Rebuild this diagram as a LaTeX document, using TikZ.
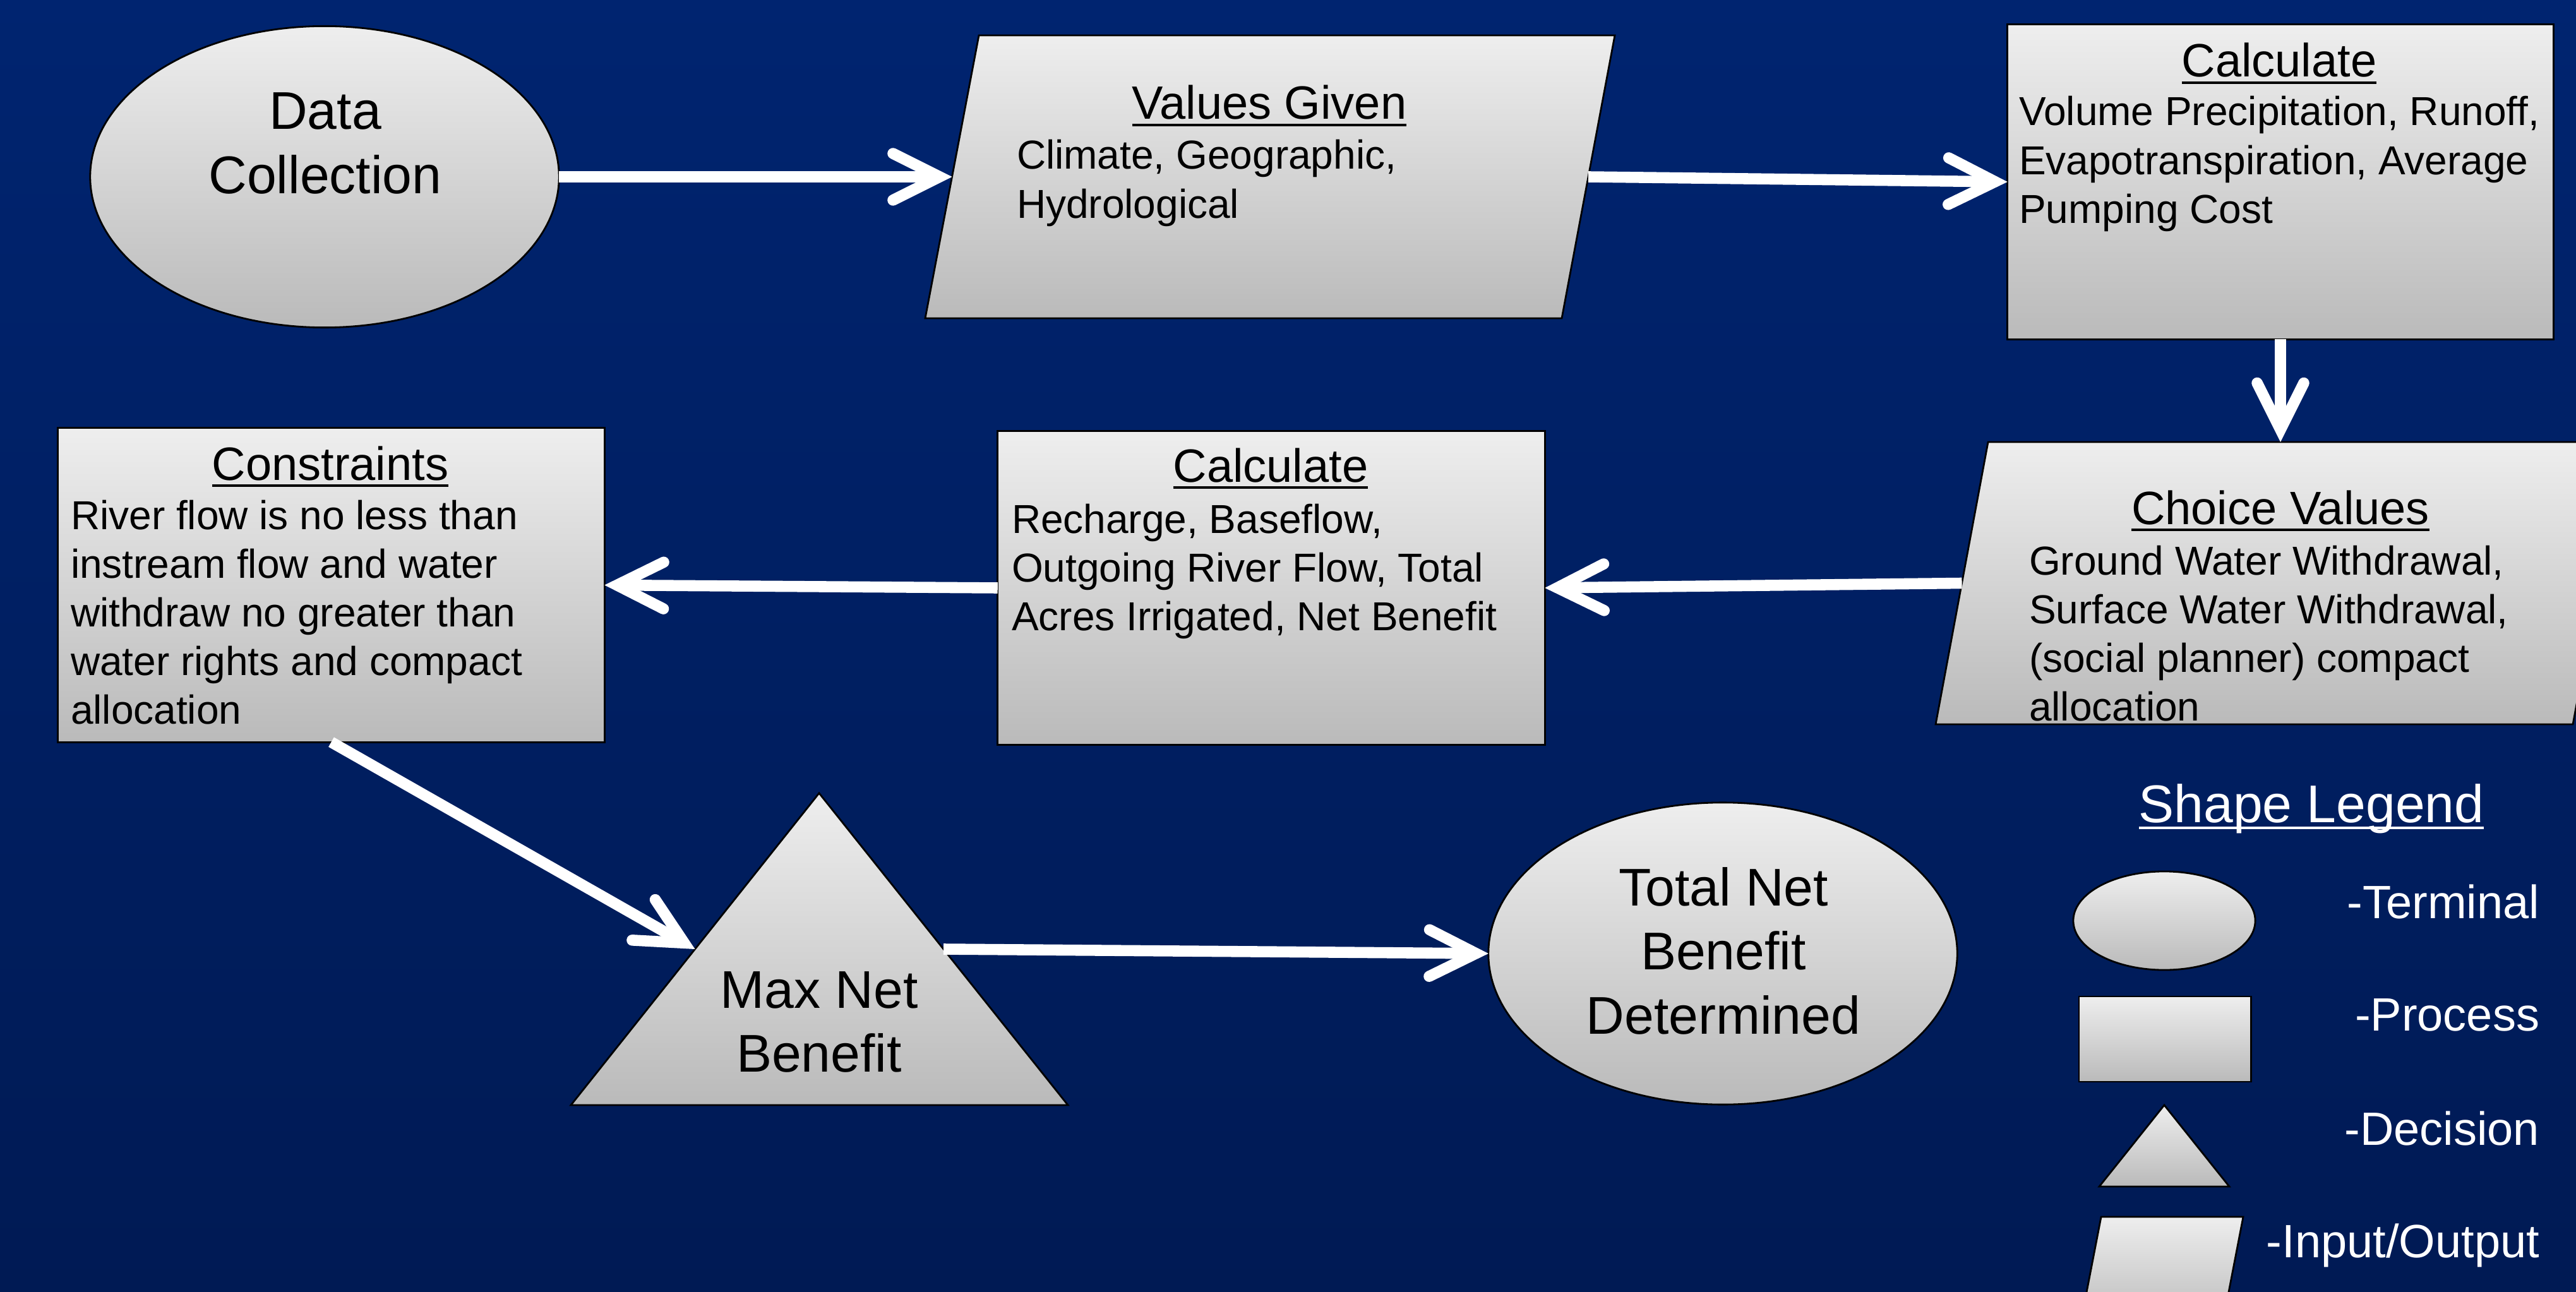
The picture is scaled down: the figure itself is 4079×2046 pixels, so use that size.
\documentclass[tikz,border=0pt]{standalone}
\usepackage{fontspec}
\setmainfont{Liberation Sans}
\usetikzlibrary{arrows.meta,calc,shapes.geometric}
\definecolor{bgtop}{RGB}{0,36,112}
\definecolor{bgbot}{RGB}{0,26,84}
\definecolor{shtop}{RGB}{238,238,238}
\definecolor{shbot}{RGB}{186,186,186}
\newcommand{\ulin}[1]{\setbox0=\hbox{#1}\rlap{\rule[-3.1pt]{\wd0}{1.0pt}}\box0}
\newcommand{\linesL}[1]{\begin{tabular}[t]{@{}l@{}}#1\end{tabular}}
\newcommand{\linesC}[1]{\begin{tabular}[t]{@{}c@{}}#1\end{tabular}}
\tikzset{
  shapebox/.style={draw=black, line width=0.8pt, top color=shtop, bottom color=shbot, inner sep=0pt, outer sep=0pt},
  flowarrow/.style={draw=white, line width=5pt, -{Straight Barb[length=21pt,width=21pt,line cap=round,line join=miter]}},
  txt/.style={inner sep=0pt, outer sep=0pt, text=black},
  bodytxt/.style={txt, font=\fontsize{18.2}{21.9}\selectfont, anchor=base west},
  titletxt/.style={txt, font=\fontsize{21.05}{25}\selectfont, anchor=base},
  bigtxt/.style={txt, font=\fontsize{23.9}{29}\selectfont, anchor=base},
  legtxt/.style={txt, text=white, font=\fontsize{21.05}{25}\selectfont, anchor=base east},
}
\begin{document}
\begin{tikzpicture}[x=0.01cm, y=-0.01cm]
\useasboundingbox (0,0) rectangle (4079,2046);
\fill[top color=bgtop, bottom color=bgbot] (0,0) rectangle (4079,2046);

% ---- main shapes ----
\node[shapebox, ellipse, minimum width=7.42cm, minimum height=4.77cm] (dc) at (514,280) {};
\path[shapebox] (1550,56) coordinate (vg1) -- (2557,56) coordinate (vg2)
  -- (2473,504) coordinate (vg3) -- (1465,504) coordinate (vg4) -- cycle;
\coordinate (vgL) at ($(vg1)!0.5!(vg4)$);
\coordinate (vgR) at ($(vg2)!0.5!(vg3)$);
\node[shapebox, rectangle, minimum width=8.64cm, minimum height=4.98cm] (c1) at (3611,288) {};
\path[shapebox] (3148,700) coordinate (cv1) -- (4157,700) coordinate (cv2)
  -- (4074,1147) coordinate (cv3) -- (3065,1147) coordinate (cv4) -- cycle;
\coordinate (cvT) at (c1.south |- cv1);
\coordinate (cvL) at ($(cv1)!0.5!(cv4)$);
\node[shapebox, rectangle, minimum width=8.66cm, minimum height=4.96cm] (c2) at (2013,931) {};
\node[shapebox, rectangle, minimum width=8.65cm, minimum height=4.97cm] (con) at (524.5,926.5) {};
\path[shapebox] (1297,1256) coordinate (mnbA) -- (1691,1750) coordinate (mnbR2)
  -- (904,1750) coordinate (mnbL2) -- cycle;
\coordinate (mnbL) at ($(mnbA)!0.5!(mnbL2)$);
\coordinate (mnbR) at ($(mnbA)!0.5!(mnbR2)$);
\node[shapebox, ellipse, minimum width=7.42cm, minimum height=4.78cm] (tnb) at (2728,1510) {};

% ---- legend shapes ----
\node[shapebox, ellipse, minimum width=2.88cm, minimum height=1.56cm] (lgE) at (3427,1458) {};
\node[shapebox, rectangle, minimum width=2.72cm, minimum height=1.35cm] (lgP) at (3428,1645.5) {};
\path[shapebox] (3427,1750) coordinate (lgT1) -- (3530,1879) coordinate (lgT2) -- (3324,1879) coordinate (lgT3) -- cycle;
\path[shapebox] (3327,1927) coordinate (lgI1) -- (3552,1927) coordinate (lgI2) -- (3518.6,2100) -- (3293.6,2100) -- cycle;

% ---- connectors ----
\draw[flowarrow] (dc.east) -- (vgL);
\draw[flowarrow] (vgR) -- (c1.west);
\draw[flowarrow] (c1.south) -- (cvT);
\draw[flowarrow] (cvL) -- (c2.east);
\draw[flowarrow] (c2.west) -- (con.east);
\draw[flowarrow] (con.south) -- (mnbL);
\draw[flowarrow] (mnbR) -- (tnb.west);

% ---- texts ----
\node[bigtxt] (dct) at (515,205) {\linesC{Data\\Collection}};

\node[titletxt] (vgt) at (2010,189) {\ulin{Values Given}};
\node[bodytxt] (vgb) at (1610,268) {\linesL{Climate, Geographic,\\Hydrological}};

\node[titletxt] (c1t) at (3609,122) {\ulin{Calculate}};
\node[bodytxt] (c1b) at (3197,199) {\linesL{Volume Precipitation, Runoff,\\Evapotranspiration, Average\\Pumping Cost}};

\node[titletxt] (cvt) at (3611,830) {\ulin{Choice Values}};
\node[bodytxt] (cvb) at (3213,910) {\linesL{Ground Water Withdrawal,\\Surface Water Withdrawal,\\(social planner) compact\\allocation}};

\node[titletxt] (c2t) at (2012,763) {\ulin{Calculate}};
\node[bodytxt] (c2b) at (1602,844) {\linesL{Recharge, Baseflow,\\Outgoing River Flow, Total\\Acres Irrigated, Net Benefit}};

\node[titletxt] (cont) at (523,760) {\ulin{Constraints}};
\node[bodytxt] (conb) at (112,838) {\linesL{River flow is no less than\\instream flow and water\\withdraw no greater than\\water rights and compact\\allocation}};

\node[bigtxt] (mnbt) at (1297,1596) {\linesC{Max Net\\Benefit}};
\node[bigtxt] (tnbt) at (2729,1434) {\linesC{Total Net\\Benefit\\Determined}};

% ---- legend texts ----
\node[bigtxt, text=white] (lgt) at (3660,1302) {\ulin{Shape Legend}};
\node[legtxt] (lg1) at (4021,1454) {-Terminal};
\node[legtxt] (lg2) at (4021,1632) {-Process};
\node[legtxt] (lg3) at (4021,1813) {-Decision};
\node[legtxt] (lg4) at (4021,1991) {-Input/Output};
\end{tikzpicture}
\end{document}
